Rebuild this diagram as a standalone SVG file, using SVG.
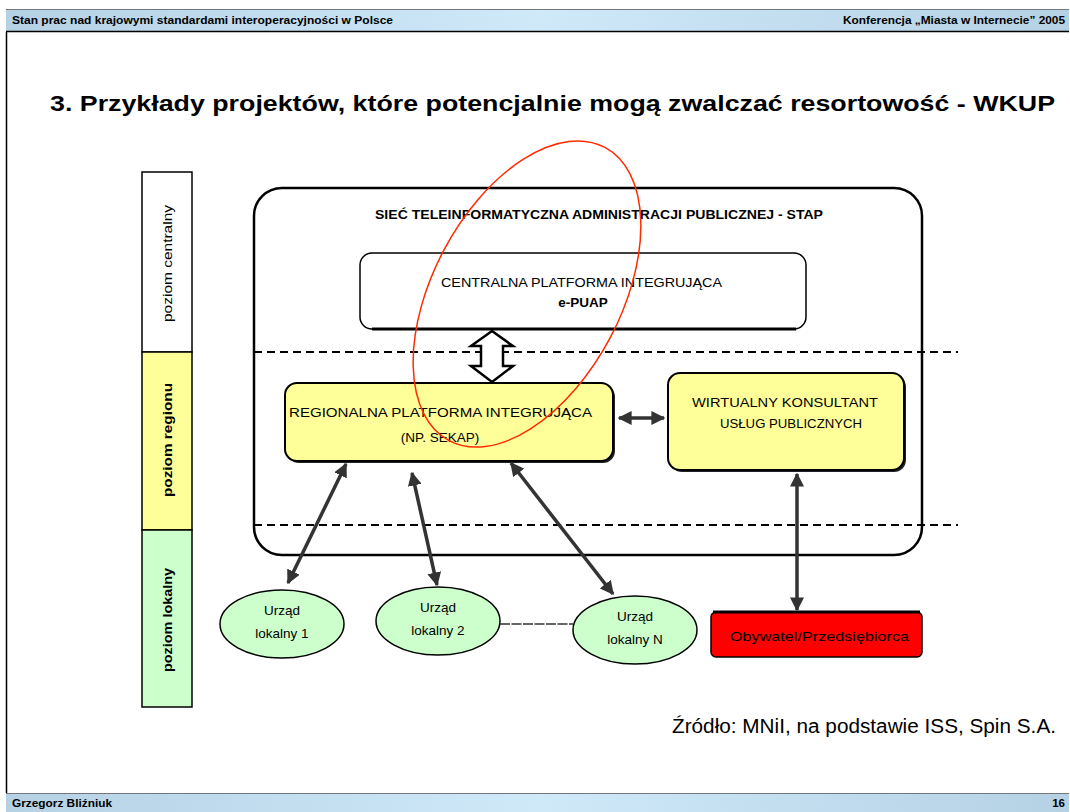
<svg xmlns="http://www.w3.org/2000/svg" width="1070" height="812" viewBox="0 0 1070 812">
  <defs>
    <linearGradient id="barGrad" x1="0" y1="0" x2="1" y2="0">
      <stop offset="0" stop-color="#b5d1e4"/>
      <stop offset="0.5" stop-color="#cfe9f9"/>
      <stop offset="1" stop-color="#b5d1e4"/>
    </linearGradient>
    <marker id="head" viewBox="0 0 10 10" refX="9" refY="5" markerWidth="4" markerHeight="4" orient="auto-start-reverse" markerUnits="strokeWidth">
      <path d="M0,0 L10,5 L0,10 z" fill="#333"/>
    </marker>
    <style>
      .bar { font-family: "Liberation Sans", Arial, sans-serif; font-size: 11.5px; font-weight: bold; fill: #000; }
      .lbl { font-family: "Liberation Sans", Arial, sans-serif; font-size: 13.5px; fill: #000; }
      .b { font-weight: bold; }
      .conn { stroke: #333; stroke-width: 3.5; fill: none; marker-start: url(#head); marker-end: url(#head); }
      .dash { stroke: #000; stroke-width: 2; stroke-dasharray: 8 5; fill: none; }
      .ybox { fill: #ffff99; stroke: #000; stroke-width: 2; }
      .oval { fill: #ccffcc; stroke: #000; stroke-width: 1.5; }
    </style>
  </defs>

  <!-- page background and frame -->
  <rect x="0" y="0" width="1070" height="812" fill="#fff"/>
  <line x1="6.5" y1="32" x2="6.5" y2="793" stroke="#000" stroke-width="1.5"/>

  <!-- header bar -->
  <g id="header">
    <rect x="6" y="9" width="1063" height="23" fill="url(#barGrad)"/>
    <line x1="6" y1="9.5" x2="1069" y2="9.5" stroke="#777" stroke-width="1"/>
    <line x1="6" y1="31.5" x2="1069" y2="31.5" stroke="#000" stroke-width="1.5"/>
    <text class="bar" x="12" y="24" textLength="381" lengthAdjust="spacingAndGlyphs">Stan prac nad krajowymi standardami interoperacyjności w Polsce</text>
    <text class="bar" x="843" y="24" textLength="222" lengthAdjust="spacingAndGlyphs">Konferencja „Miasta w Internecie” 2005</text>
  </g>

  <!-- footer bar -->
  <g id="footer">
    <rect x="6" y="793" width="1063" height="19" fill="url(#barGrad)"/>
    <line x1="6" y1="793.5" x2="1069" y2="793.5" stroke="#777" stroke-width="1"/>
    <text class="bar" x="12" y="807" textLength="100" lengthAdjust="spacingAndGlyphs">Grzegorz Bliźniuk</text>
    <text class="bar" x="1065" y="807" text-anchor="end" font-weight="normal">16</text>
  </g>

  <!-- title -->
  <text x="50" y="111" font-family="'Liberation Sans', Arial, sans-serif" font-size="21.5" font-weight="bold" textLength="1005" lengthAdjust="spacingAndGlyphs">3. Przykłady projektów, które potencjalnie mogą zwalczać resortowość - WKUP</text>

  <!-- level column -->
  <g id="levels">
    <rect x="142" y="172" width="50" height="180" fill="#fff" stroke="#000" stroke-width="1.5"/>
    <rect x="142" y="352" width="50" height="178" fill="#ffff99" stroke="#000" stroke-width="1.5"/>
    <rect x="142" y="530" width="50" height="177" fill="#ccffcc" stroke="#000" stroke-width="1.5"/>
    <text class="lbl" transform="translate(172,322) rotate(-90)" font-size="14" textLength="117" lengthAdjust="spacingAndGlyphs">poziom centralny</text>
    <text class="lbl b" transform="translate(172,497) rotate(-90)" font-size="14" textLength="114" lengthAdjust="spacingAndGlyphs">poziom regionu</text>
    <text class="lbl b" transform="translate(172,672) rotate(-90)" font-size="14" textLength="104" lengthAdjust="spacingAndGlyphs">poziom lokalny</text>
  </g>

  <!-- STAP network frame -->
  <g id="stap">
    <rect x="254" y="188" width="668" height="367" rx="28" ry="28" fill="none" stroke="#000" stroke-width="2.5"/>
    <text class="lbl b" x="375" y="219" font-size="13" textLength="448" lengthAdjust="spacingAndGlyphs">SIEĆ TELEINFORMATYCZNA ADMINISTRACJI PUBLICZNEJ - STAP</text>
  </g>

  <!-- level separators -->
  <line class="dash" x1="254" y1="352" x2="958" y2="352"/>
  <line class="dash" x1="254" y1="525" x2="958" y2="525"/>

  <!-- central platform -->
  <g id="epuap">
    <rect x="360" y="253" width="446" height="76" rx="12" ry="12" fill="#fff" stroke="#000" stroke-width="1.5"/>
    <path d="M372,329 H796" stroke="#000" stroke-width="3"/>
    <text class="lbl" x="441" y="287" textLength="281" lengthAdjust="spacingAndGlyphs">CENTRALNA PLATFORMA INTEGRUJĄCA</text>
    <text class="lbl b" x="583" y="307" text-anchor="middle">e-PUAP</text>
  </g>

  <!-- regional platform -->
  <g id="sekap">
    <rect x="287" y="385" width="328" height="78" rx="12" ry="12" fill="#222"/>
    <rect class="ybox" x="285" y="383" width="328" height="78" rx="12" ry="12"/>
    <text class="lbl" x="289" y="417" textLength="303" lengthAdjust="spacingAndGlyphs">REGIONALNA PLATFORMA INTEGRUJĄCA</text>
    <text class="lbl" x="440" y="442" text-anchor="middle">(NP. SEKAP)</text>
  </g>

  <!-- virtual consultant -->
  <g id="wkup">
    <rect x="670" y="375" width="236" height="97" rx="12" ry="12" fill="#222"/>
    <rect class="ybox" x="668" y="373" width="236" height="97" rx="12" ry="12"/>
    <text class="lbl" x="692" y="407" textLength="186" lengthAdjust="spacingAndGlyphs">WIRTUALNY KONSULTANT</text>
    <text class="lbl" x="720" y="428" textLength="142" lengthAdjust="spacingAndGlyphs">USŁUG PUBLICZNYCH</text>
  </g>

  <!-- local offices -->
  <g id="urzad1">
    <ellipse class="oval" cx="282" cy="624" rx="62" ry="34"/>
    <text class="lbl" x="282" y="615" text-anchor="middle">Urząd</text>
    <text class="lbl" x="282" y="638" text-anchor="middle">lokalny 1</text>
  </g>
  <g id="urzad2">
    <ellipse class="oval" cx="438" cy="621" rx="62" ry="34"/>
    <text class="lbl" x="438" y="612" text-anchor="middle">Urząd</text>
    <text class="lbl" x="438" y="635" text-anchor="middle">lokalny 2</text>
  </g>
  <g id="urzadN">
    <ellipse class="oval" cx="635" cy="630" rx="62" ry="34"/>
    <text class="lbl" x="635" y="621" text-anchor="middle">Urząd</text>
    <text class="lbl" x="635" y="644" text-anchor="middle">lokalny N</text>
  </g>

  <!-- citizen / business -->
  <g id="obywatel">
    <rect x="711" y="612" width="211" height="45" rx="5" ry="5" fill="#ff0000" stroke="#000" stroke-width="1.5"/>
    <line x1="713" y1="612" x2="920" y2="612" stroke="#000" stroke-width="3"/>
    <text class="lbl" x="730" y="641" textLength="179" lengthAdjust="spacingAndGlyphs">Obywatel/Przedsiębiorca</text>
  </g>

  <!-- connectors -->
  <g id="connectors">
    <!-- hollow block double arrow e-PUAP <-> SEKAP -->
    <path d="M492,331 L513,346 L503,346 L503,366 L513,366 L492,382 L471,366 L481,366 L481,346 L471,346 Z" fill="#fff" stroke="#000" stroke-width="2.5" stroke-linejoin="miter"/>
    <line class="conn" x1="619" y1="418" x2="664" y2="418"/>
    <line class="conn" x1="346" y1="464" x2="288" y2="583"/>
    <line class="conn" x1="412" y1="473" x2="437" y2="585"/>
    <line class="conn" x1="511" y1="463" x2="613" y2="594"/>
    <line class="conn" x1="797" y1="474" x2="797" y2="610"/>
    <line x1="500" y1="624" x2="573" y2="624" stroke="#333" stroke-width="1.5" stroke-dasharray="10 1.5"/>
  </g>

  <!-- highlight oval -->
  <ellipse cx="527" cy="294" rx="94" ry="166" transform="rotate(28 527 294)" fill="none" stroke="#ff2a00" stroke-width="1.5"/>

  <!-- source note -->
  <text x="672" y="733" font-family="'Liberation Sans', Arial, sans-serif" font-size="19.5" textLength="384" lengthAdjust="spacingAndGlyphs">Źródło: MNiI, na podstawie ISS, Spin S.A.</text>
</svg>
